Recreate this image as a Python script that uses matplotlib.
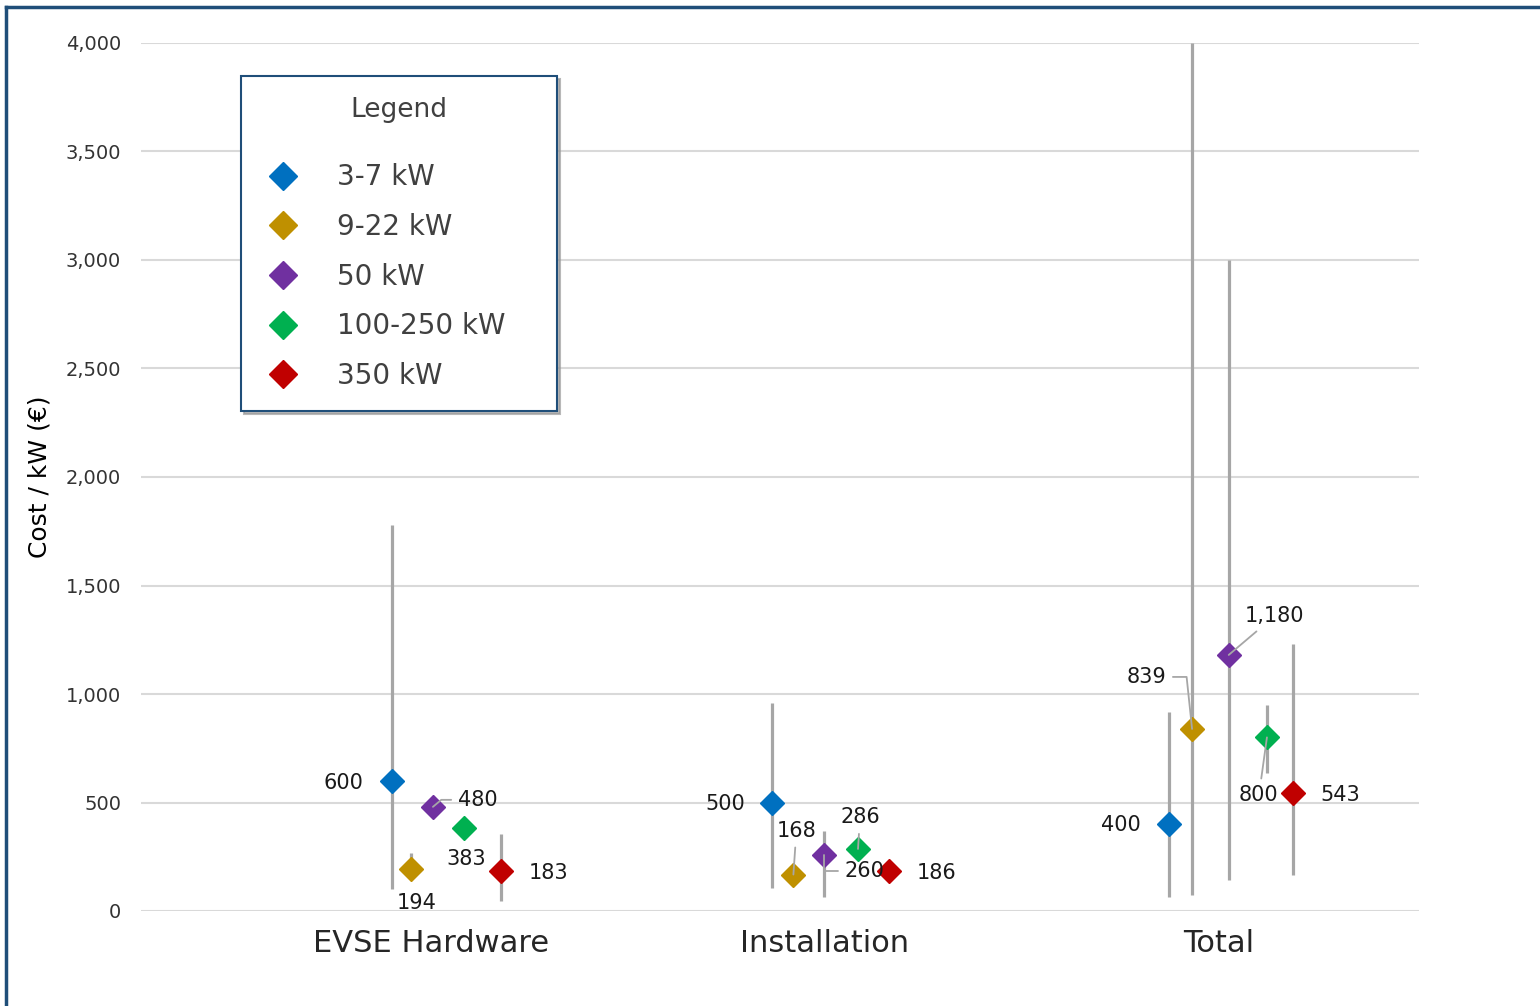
import matplotlib
matplotlib.use('Agg')
import matplotlib.pyplot as plt
from matplotlib.lines import Line2D
import numpy as np

nan = np.nan

categories = ['EVSE Hardware', 'Installation', 'Total']
series = ['3-7 kW', '9-22 kW', '50 kW', '100-250 kW', '350 kW']
colors = ['#0070C0', '#BF9000', '#7030A0', '#00B050', '#C00000']

# valores centrais (por categoria)
v_3_7 = [600, 500, 400]
v_9_22 = [194, 168, 839]
v_50 = [480, 260, 1180]
v_100_250 = [383, 286, 800]
v_350 = [183, 186, 543]

# faixas min / max (nan = sem faixa)
lo_3_7 = [100, 105, 65]
hi_3_7 = [1780, 960, 915]
lo_9_22 = [150, nan, 75]
hi_9_22 = [265, nan, 4000]
lo_50 = [nan, 65, 145]
hi_50 = [nan, 370, 3000]
lo_100_250 = [nan, nan, 635]
hi_100_250 = [nan, nan, 950]
lo_350 = [45, nan, 165]
hi_350 = [355, nan, 1230]

valores = [v_3_7, v_9_22, v_50, v_100_250, v_350]
minimos = [lo_3_7, lo_9_22, lo_50, lo_100_250, lo_350]
maximos = [hi_3_7, hi_9_22, hi_50, hi_100_250, hi_350]

# deslocamento horizontal de cada serie dentro da categoria
x_off = [[-0.10, -0.135, -0.127],
         [-0.05, -0.08, -0.068],
         [0.005, -0.003, 0.025],
         [0.084, 0.084, 0.122],
         [0.178, 0.163, 0.188]]

# posicao dos rotulos (pixels em relacao ao marcador) e estilo da linha guia
lab_off = [[(-48, -2), (-46, -2), (-48, -1)],
           [(5, -34), (3, 44), (-46, 52)],
           [(45, 7), (41, -16), (46, 39)],
           [(2, -31), (2, 32), (-8, -58)],
           [(47, -2), (47, -2), (47, -2)]]
guia = [[None, None, None],
        [None, 'arc3', 'angle,angleA=0,angleB=96,rad=0'],
        ['angle,angleA=0,angleB=40,rad=0', 'angle,angleA=0,angleB=90,rad=0', 'arc3'],
        [None, 'arc3', 'arc3'],
        [None, None, None]]

fig = plt.figure(figsize=(15.4, 10.06), dpi=100)
ax = fig.add_axes([141/1540, 95/1006, 1278/1540, 868/1006])

cats = np.arange(len(categories))

for s in range(len(series)):
    for c in cats:
        x = c + x_off[s][c]
        if not np.isnan(minimos[s][c]):
            ax.plot([x, x], [minimos[s][c], maximos[s][c]], color='#a6a6a6', lw=2.3,
                    solid_capstyle='butt', zorder=2)
    for c in cats:
        x = c + x_off[s][c]
        ax.plot(x, valores[s][c], marker='D', ms=12, color=colors[s], ls='none', zorder=4)
        dx, dy = lab_off[s][c]
        props = None
        if guia[s][c] is not None:
            props = dict(arrowstyle='-', color='#a6a6a6', lw=1.3, shrinkA=3, shrinkB=0,
                         connectionstyle=guia[s][c])
        ax.annotate('{:,}'.format(valores[s][c]), (x, valores[s][c]), xytext=(dx, dy),
                    textcoords='offset pixels', ha='center', va='center', fontsize=15,
                    color='#1a1a1a', arrowprops=props, zorder=5)

ax.set_xlim(-0.736, 2.508)
ax.set_ylim(0, 4000)
ax.set_yticks(np.arange(0, 4001, 500))
ax.set_yticklabels(['{:,}'.format(v) for v in range(0, 4001, 500)])
ax.set_xticks(cats)
ax.set_xticklabels(categories, fontsize=22, color='#262626')
ax.tick_params(axis='x', length=0, pad=13)
ax.tick_params(axis='y', length=0, pad=14.4, labelsize=14, labelcolor='#333333')
ax.yaxis.grid(True, color='#d9d9d9', lw=1.5, zorder=0)
ax.set_axisbelow(True)
for sp in ax.spines.values():
    sp.set_visible(False)

fig.text(40/1540, 1 - 477/1006, 'Cost / kW (€)', rotation=90, ha='center', va='center',
         fontsize=18, color='#000000')

# legenda
handles = [Line2D([], [], marker='D', ms=14.5, color=colors[i], ls='none') for i in range(len(series))]
leg = ax.legend(handles, series, title='Legend', loc='upper left',
                bbox_to_anchor=(100/1278, 0.9516, 316/1278, 0.01), mode='expand',
                fontsize=20, title_fontsize=19,
                frameon=True, fancybox=False, shadow={'color': '#9a9a9a', 'alpha': 0.7},
                labelspacing=0.78, handletextpad=1.2, borderpad=0.75, borderaxespad=0,
                handlelength=1.5, labelcolor='#404040')
leg.get_title().set_color('#404040')
leg.get_frame().set_edgecolor('#1F4E79')
leg.get_frame().set_linewidth(1.5)
leg._legend_box.sep = 29

# moldura azul
fig.add_artist(Line2D([6/1540, 6/1540], [0, 1 - 7/1006], color='#1F4E79', lw=2.5,
                      transform=fig.transFigure))
fig.add_artist(Line2D([6/1540, 1], [1 - 7/1006, 1 - 7/1006], color='#1F4E79', lw=2.5,
                      transform=fig.transFigure))

fig.savefig('out.png', dpi=100)
